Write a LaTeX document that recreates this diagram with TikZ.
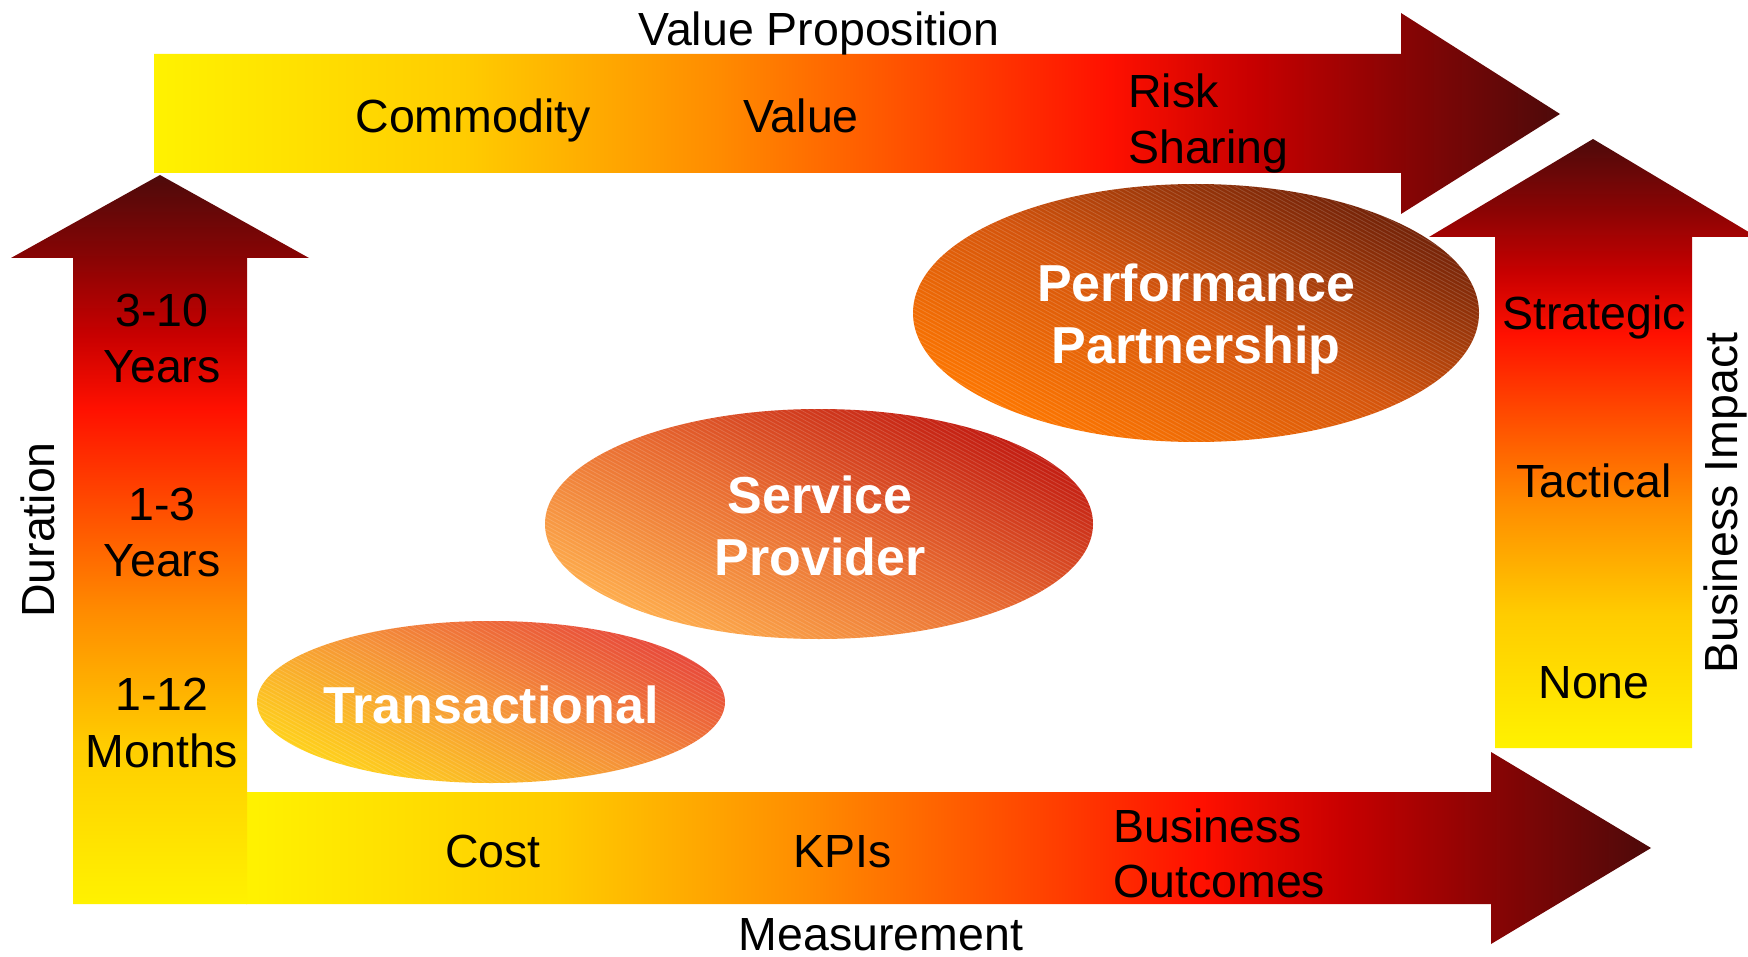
\documentclass[tikz,border=0pt]{standalone}
\usepackage{fontspec}
\setmainfont{Liberation Sans}
\usetikzlibrary{shapes.geometric}
\definecolor{gY}{HTML}{FFF200}
\definecolor{gG}{HTML}{FFCC00}
\definecolor{gO}{HTML}{FF8C00}
\definecolor{gOR}{HTML}{FF4A00}
\definecolor{gR}{HTML}{FF1000}
\definecolor{gD1}{HTML}{C80000}
\definecolor{gD2}{HTML}{8C0404}
\definecolor{gD3}{HTML}{4D0A0A}
\pgfdeclarehorizontalshading{warmh}{100bp}{color(0bp)=(gY); color(25bp)=(gY); color(36bp)=(gG); color(45bp)=(gO); color(52.5bp)=(gOR); color(59bp)=(gR); color(64bp)=(gD1); color(69bp)=(gD2); color(75bp)=(gD3); color(100bp)=(gD3)}
\pgfdeclareverticalshading{warmv}{100bp}{color(0bp)=(gY); color(25bp)=(gY); color(36bp)=(gG); color(45bp)=(gO); color(52.5bp)=(gOR); color(59bp)=(gR); color(64bp)=(gD1); color(69bp)=(gD2); color(75bp)=(gD3); color(100bp)=(gD3)}
\definecolor{tA}{HTML}{FFD41A}
\definecolor{tM}{HTML}{F59238}
\definecolor{tB}{HTML}{E7463A}
\definecolor{sA}{HTML}{FFB04E}
\definecolor{sM}{HTML}{E86A30}
\definecolor{sB}{HTML}{C01810}
\definecolor{pA}{HTML}{FF7800}
\definecolor{pM}{HTML}{D4540C}
\definecolor{pB}{HTML}{6E2008}
\begin{document}
\begin{tikzpicture}[x=1pt,y=-1pt,
  lbl/.style={font=\fontsize{46.5}{56}\selectfont, text=black, inner sep=0pt, anchor=base},
  lblw/.style={lbl, anchor=base west},
  big/.style={font=\fontsize{52}{61}\selectfont\bfseries, text=white, inner sep=0pt, anchor=base},
  hatchline/.style={white, opacity=0.16, line width=0.8pt},
  oval/.style={ellipse, inner sep=0pt, draw=none,
    path picture={\begin{scope}[shift={(path picture bounding box.center)}]
      \foreach \k in {-80,...,80}{\draw[hatchline] (-330,{4*\k-182}) -- (330,{4*\k+182});}
    \end{scope}}}]
\useasboundingbox (0,0) rectangle (1748,957);
\fill[white] (0,0) rectangle (1748,957);
\clip (0,0) rectangle (1748,957);
% top arrow: Value Proposition
\shade[shading=warmh] (154,54) -- (1401,54) -- (1401,13) -- (1560,114) -- (1401,214) -- (1401,173) -- (154,173) -- cycle;
% bottom arrow: Measurement
\shade[shading=warmh] (246,792) -- (1491,792) -- (1491,752) -- (1651,848) -- (1491,944) -- (1491,904) -- (246,904) -- cycle;
% left arrow: Duration
\shade[shading=warmv] (73,904) -- (73,258) -- (11,258) -- (160,175) -- (309,258) -- (247,258) -- (247,904) -- cycle;
% right arrow: Business Impact
\shade[shading=warmv] (1495,748) -- (1495,237) -- (1429,237) -- (1593,139) -- (1757,237) -- (1692,237) -- (1692,748) -- cycle;
% ellipses
\node[oval, minimum width=468pt, minimum height=162pt, bottom color=tA, top color=tB, middle color=tM, shading angle=-25] (tr) at (491,702) {};
\node[oval, minimum width=548pt, minimum height=230pt, bottom color=sA, top color=sB, middle color=sM, shading angle=-25] (sp) at (819,524) {};
\node[oval, minimum width=566pt, minimum height=258pt, bottom color=pA, top color=pB, middle color=pM, shading angle=-25] (pp) at (1196,313) {};
\node[big] (trt) at (491,723) {Transactional};
\node[big] (spt1) at (820,513) {Service};
\node[big] (spt2) at (820,575) {Provider};
\node[big] (ppt1) at (1196,302) {Performance};
\node[big] (ppt2) at (1196,363) {Partnership};
% top labels
\node[lbl] (vp) at (819,46) {Value Proposition};
\node[lbl] (com) at (473,133) {Commodity};
\node[lbl] (val) at (801,133) {Value};
\node[lblw] (risk) at (1128,108) {Risk};
\node[lblw] (shar) at (1128,164) {Sharing};
% left labels
\node[lbl] (d1a) at (162,327) {3-10};
\node[lbl] (d1b) at (162,383) {Years};
\node[lbl] (d2a) at (162,520) {1-3};
\node[lbl] (d2b) at (162,576) {Years};
\node[lbl] (d3a) at (162,710) {1-12};
\node[lbl] (d3b) at (162,767) {Months};
\node[lbl, rotate=90] (dur) at (54,530) {Duration};
% bottom labels
\node[lbl] (cost) at (493,867) {Cost};
\node[lbl] (kpi) at (843,867) {KPIs};
\node[lblw] (bus) at (1113,842) {Business};
\node[lblw] (out) at (1113,897) {Outcomes};
\node[lbl] (meas) at (881,950) {Measurement};
% right labels
\node[lbl] (str) at (1594,330) {Strategic};
\node[lbl] (tac) at (1594,497) {Tactical};
\node[lbl] (non) at (1594,698) {None};
\node[lbl, rotate=90] (bi) at (1737,503) {Business Impact};
\end{tikzpicture}
\end{document}
